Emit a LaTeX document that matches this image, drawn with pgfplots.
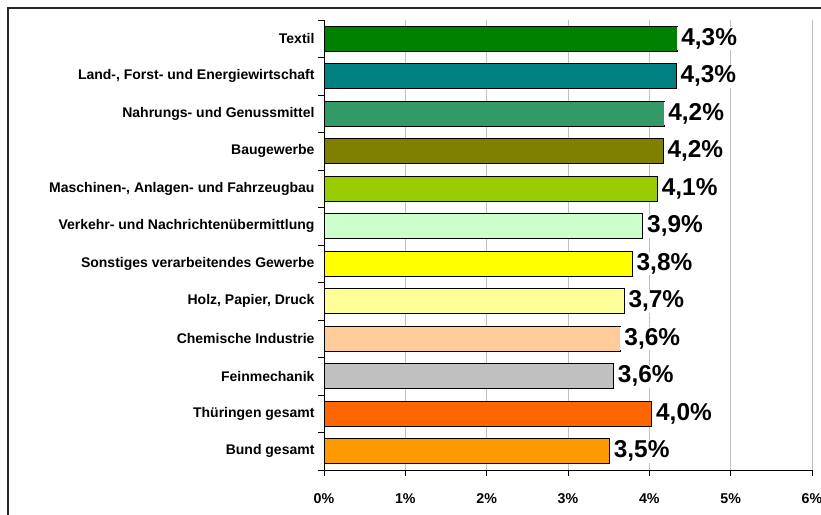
\documentclass[border=0pt]{standalone}
\usepackage{fontspec}
\setmainfont{Liberation Sans}
\usepackage{pgfplots}
\pgfplotsset{compat=1.18}
\definecolor{cTextil}{HTML}{008000}
\definecolor{cLand}{HTML}{008080}
\definecolor{cNahr}{HTML}{339966}
\definecolor{cBau}{HTML}{808000}
\definecolor{cMasch}{HTML}{99CC00}
\definecolor{cVerk}{HTML}{CCFFCC}
\definecolor{cSonst}{HTML}{FFFF00}
\definecolor{cHolz}{HTML}{FFFF99}
\definecolor{cChem}{HTML}{FFCC99}
\definecolor{cFein}{HTML}{C0C0C0}
\definecolor{cThue}{HTML}{FF6600}
\definecolor{cBund}{HTML}{FF9900}
\begin{document}
\begin{tikzpicture}[x=1pt,y=1pt]
\begin{axis}[
  at={(0,0)}, anchor=south west,
  scale only axis, width=488pt, height=450pt,
  xmin=0, xmax=6, ymin=-0.5, ymax=11.5,
  axis lines*=left,
  axis line style={black, line width=0.9pt},
  /pgf/number format/assume math mode=true,
  xtick={0,1,2,3,4,5,6},
  xticklabels={0\%,1\%,2\%,3\%,4\%,5\%,6\%},
  xticklabel style={font=\fontsize{14.2}{15}\selectfont\bfseries, yshift=-14pt},
  xmajorgrids,
  grid style={black!25, line width=0.8pt},
  tick align=outside,
  major tick length=6pt,
  tick style={black, line width=0.8pt},
  ytick={-0.5,0.5,1.5,2.5,3.5,4.5,5.5,6.5,7.5,8.5,9.5,10.5,11.5},
  yticklabels={},
  extra y ticks={0,1,2,3,4,5,6,7,8,9,10,11},
  extra y tick labels={Bund gesamt,Thüringen gesamt,Feinmechanik,Chemische Industrie,{Holz, Papier, Druck},Sonstiges verarbeitendes Gewerbe,Verkehr- und Nachrichtenübermittlung,{Maschinen-, Anlagen- und Fahrzeugbau},Baugewerbe,Nahrungs- und Genussmittel,{Land-, Forst- und Energiewirtschaft},Textil},
  extra y tick style={major tick length=0pt, grid=none},
  yticklabel style={font=\fontsize{14}{15}\selectfont\bfseries, xshift=-6pt},
  point meta=x,
  nodes near coords={\pgfmathprintnumber[fixed,fixed zerofill,precision=1,use comma]{\pgfplotspointmeta}\%},
  nodes near coords style={font=\fontsize{24.4}{25}\selectfont\bfseries, anchor=west, fill=white, inner xsep=4pt, inner ysep=1pt},
  every axis plot/.append style={xbar, bar width=25pt, bar shift=0pt, draw=black, line width=0.8pt},
]
\addplot[fill=cTextil] coordinates {(4.34,11)};
\addplot[fill=cLand] coordinates {(4.33,10)};
\addplot[fill=cNahr] coordinates {(4.18,9)};
\addplot[fill=cBau] coordinates {(4.17,8)};
\addplot[fill=cMasch] coordinates {(4.10,7)};
\addplot[fill=cVerk] coordinates {(3.92,6)};
\addplot[fill=cSonst] coordinates {(3.79,5)};
\addplot[fill=cHolz] coordinates {(3.69,4)};
\addplot[fill=cChem] coordinates {(3.64,3)};
\addplot[fill=cFein] coordinates {(3.56,2)};
\addplot[fill=cThue] coordinates {(4.03,1)};
\addplot[fill=cBund] coordinates {(3.51,0)};
\end{axis}
\draw[black!85, line width=1.6pt] (-316,-60) -- (-316,462) -- (530,462);
\pgfresetboundingbox
\path[use as bounding box] (-324,-44) rectangle (497,470);
\end{tikzpicture}
\end{document}
